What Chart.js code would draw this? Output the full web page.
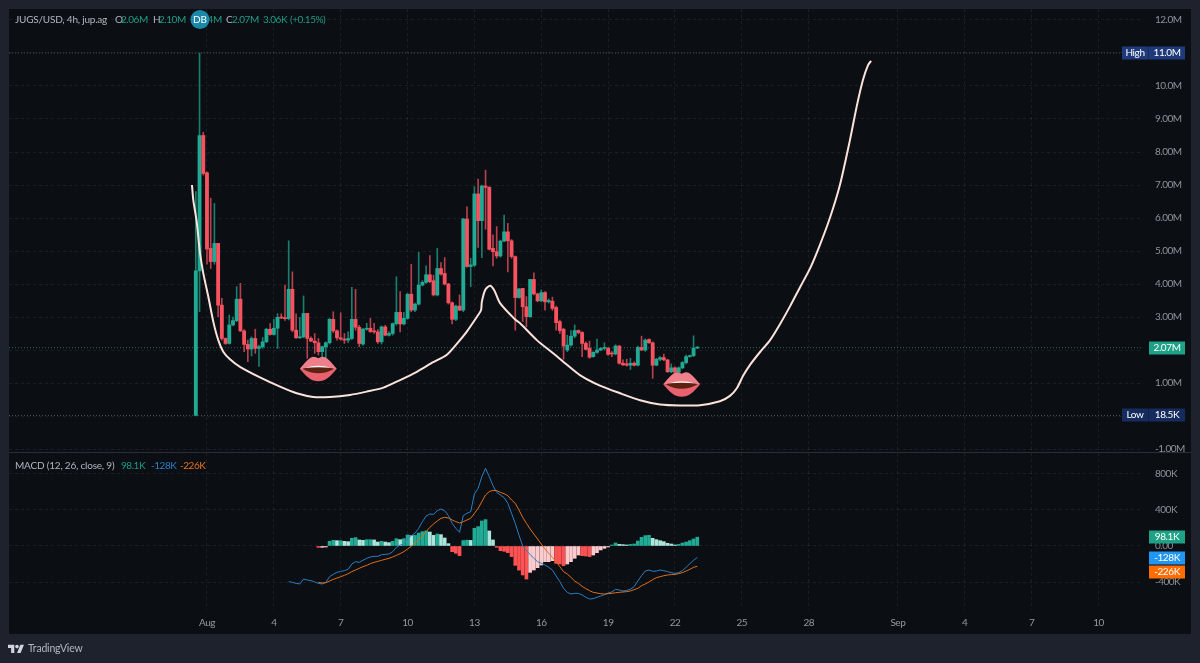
<!DOCTYPE html>
<html>
<head>
<meta charset="utf-8">
<title>JUGS/USD</title>
<script src="https://cdn.jsdelivr.net/npm/chart.js@4/dist/chart.umd.min.js"></script>
<style>
    html, body { margin: 0; padding: 0; background: #1e222d; overflow: hidden; }
    canvas { display: block; }
</style>
</head>
<body>
<canvas id="chart" width="1200" height="663"></canvas>
<script>
// 4h candles in millions, first bar sits three bars before Aug 1 00:00
var firstBar = -3;
var opens = [
    0.02, 4.4, 8.5, 7.37, 5.08, 4.68, 5.23, 3.36, 2.35, 2.2,
    2.76, 2.89, 3.54, 2.58, 2.17, 2.03, 2.35, 2.05, 2.1, 2.25,
    2.63, 2.47, 2.66, 2.99, 2.97, 2.95, 3.84, 2.6, 2.37, 2.4,
    3.11, 2.35, 2.27, 2.22, 1.95, 2.1, 2.22, 2.93, 2.58, 2.37,
    2.33, 2.3, 2.35, 2.93, 2.69, 2.18, 2.63, 2.66, 2.56, 2.55,
    2.25, 2.7, 2.45, 2.5, 2.8, 3.14, 2.79, 2.96, 3.69, 3.21,
    3.39, 3.97, 4.05, 4.28, 4.1, 3.67, 4.47, 4.32, 4.0, 3.43,
    2.93, 3.33, 3.21, 5.97, 4.53, 4.57, 6.73, 5.92, 6.97, 6.93,
    5.08, 4.98, 4.85, 5.3, 5.58, 5.31, 4.83, 3.59, 3.87, 3.31,
    3.01, 4.14, 3.7, 3.49, 3.74, 3.46, 3.48, 3.29, 2.86, 2.63,
    2.0, 2.15, 2.42, 2.59, 2.53, 2.2, 2.05, 1.8, 1.93, 2.0,
    2.05, 2.05, 1.9, 1.88, 2.12, 1.6, 1.58, 1.54, 1.6, 1.54,
    2.08, 2.0, 2.32, 2.22, 1.54, 1.72, 1.77, 1.7, 1.34, 1.46,
    1.33, 1.46, 1.62, 1.8, 1.83, 2.06
];
var highs = [
    6.8, 11.0, 8.6, 7.4, 6.6, 6.44, 5.23, 3.57, 2.37, 3.06,
    3.0, 3.92, 4.02, 2.62, 2.3, 2.4, 2.63, 2.15, 2.38, 2.66,
    2.8, 2.93, 3.1, 3.1, 3.97, 5.31, 4.37, 3.1, 2.99, 3.64,
    3.11, 2.4, 2.5, 2.35, 2.12, 2.25, 2.96, 3.16, 2.61, 3.13,
    2.5, 2.55, 3.9, 3.84, 2.75, 2.66, 2.81, 2.96, 2.81, 2.62,
    2.73, 2.75, 2.56, 2.82, 4.22, 3.77, 3.14, 3.72, 4.6, 3.42,
    4.96, 4.1, 4.55, 4.86, 4.27, 5.08, 4.65, 4.8, 4.02, 3.46,
    3.36, 3.67, 5.99, 6.34, 4.78, 6.95, 7.18, 7.0, 7.45, 6.95,
    5.49, 5.74, 5.33, 6.09, 5.84, 5.35, 4.85, 3.87, 3.87, 3.62,
    4.14, 4.34, 3.72, 3.82, 3.77, 3.55, 3.6, 3.33, 2.91, 2.66,
    2.45, 2.59, 2.76, 2.61, 2.56, 2.25, 2.27, 1.95, 2.33, 2.08,
    2.22, 2.08, 1.95, 2.16, 2.14, 1.7, 1.72, 1.75, 1.64, 2.12,
    2.42, 2.34, 2.34, 2.25, 1.75, 1.8, 1.88, 1.72, 1.58, 1.49,
    1.49, 1.65, 1.85, 1.85, 2.43, 2.1
];
var lows = [
    0.0185, 3.16, 7.3, 4.6, 4.47, 4.6, 3.0, 2.3, 2.17, 2.18,
    2.73, 2.86, 2.56, 1.95, 1.65, 1.82, 1.9, 1.5, 2.05, 2.22,
    2.45, 2.45, 2.05, 2.95, 2.9, 2.91, 2.55, 2.35, 2.35, 2.37,
    1.75, 2.25, 1.9, 1.85, 1.8, 1.75, 2.18, 2.53, 2.3, 2.3,
    2.2, 2.22, 2.32, 2.6, 2.1, 2.15, 2.6, 2.53, 2.5, 2.2,
    2.18, 2.43, 2.42, 2.45, 2.75, 2.55, 2.76, 2.93, 3.16, 3.16,
    3.36, 3.94, 4.02, 4.04, 3.64, 3.64, 4.27, 3.97, 3.39, 2.79,
    2.89, 3.19, 3.16, 4.51, 3.92, 4.53, 5.11, 4.8, 5.66, 5.03,
    4.55, 4.78, 4.81, 5.28, 4.37, 4.78, 2.6, 3.57, 2.86, 2.7,
    2.99, 3.67, 3.46, 3.46, 3.21, 3.42, 3.2, 2.6, 2.5, 1.72,
    1.95, 2.12, 2.37, 2.49, 1.8, 2.0, 1.75, 1.78, 1.9, 1.98,
    2.0, 1.84, 1.8, 1.85, 1.57, 1.53, 1.51, 1.41, 1.52, 1.52,
    1.98, 1.96, 2.2, 1.14, 1.52, 1.68, 1.68, 1.32, 1.31, 1.31,
    1.24, 1.43, 1.58, 1.78, 1.8, 2.04
];
var closes = [
    4.4, 8.5, 7.35, 5.06, 4.68, 5.23, 3.36, 2.35, 2.2, 2.76,
    2.89, 3.54, 2.58, 2.17, 2.03, 2.35, 2.05, 2.1, 2.25, 2.63,
    2.47, 2.66, 2.99, 2.97, 2.95, 3.84, 2.6, 2.37, 2.4, 3.11,
    2.35, 2.27, 2.22, 1.95, 2.1, 2.22, 2.93, 2.58, 2.37, 2.33,
    2.3, 2.35, 2.93, 2.69, 2.2, 2.63, 2.66, 2.56, 2.55, 2.25,
    2.7, 2.45, 2.5, 2.8, 3.14, 2.79, 2.96, 3.69, 3.21, 3.39,
    3.97, 4.05, 4.28, 4.07, 3.67, 4.47, 4.3, 4.0, 3.43, 2.93,
    3.33, 3.21, 5.97, 4.53, 4.58, 6.73, 5.92, 6.97, 6.93, 5.05,
    4.98, 4.85, 5.3, 5.58, 5.31, 4.83, 3.59, 3.85, 3.31, 3.01,
    4.14, 3.7, 3.49, 3.74, 3.46, 3.5, 3.26, 2.83, 2.59, 2.12,
    2.15, 2.42, 2.59, 2.53, 2.2, 2.02, 1.78, 1.93, 2.0, 2.05,
    2.07, 1.87, 1.88, 2.12, 1.6, 1.55, 1.54, 1.6, 1.54, 2.08,
    2.0, 2.3, 2.22, 1.54, 1.72, 1.77, 1.7, 1.34, 1.46, 1.33,
    1.46, 1.62, 1.8, 1.83, 2.06, 2.07
];

// MACD values in thousands
var macdStart = 22;
var macdLine = [
    -396, -404, -415, -422, -367, -378, -385, -400, -415, -422,
    -404, -341, -315, -293, -282, -274, -259, -200, -174, -182,
    -159, -137, -122, -115, -115, -96, -93, -89, -63, -15,
    11, 19, 85, 115, 141, 196, 270, 333, 355, 352,
    392, 411, 392, 337, 252, 196, 152, 337, 363, 381,
    578, 641, 770, 863, 770, 670, 596, 567, 537, 474,
    363, 250, 120, 0, -52, -93, -137, -174, -193, -211,
    -237, -267, -333, -396, -470, -515, -533, -526, -526, -544,
    -570, -589, -585, -570, -556, -541, -522, -511, -481, -489,
    -500, -493, -481, -452, -389, -330, -278, -267, -281, -278,
    -267, -274, -285, -296, -304, -296, -274, -237, -196, -159,
    -128
];
var signalStart = 30;
var signalLine = [
    -404, -411, -408, -389, -371, -356, -341, -326, -308, -285,
    -267, -248, -230, -215, -196, -182, -171, -159, -148, -137,
    -122, -104, -85, -63, -33, -4, 33, 70, 111, 159,
    207, 244, 278, 307, 318, 311, 289, 270, 255, 270,
    289, 307, 363, 418, 492, 567, 604, 618, 615, 596,
    581, 559, 511, 474, 400, 318, 252, 189, 133, 78,
    22, -33, -81, -126, -174, -230, -285, -311, -348, -389,
    -415, -448, -474, -496, -515, -522, -530, -533, -530, -526,
    -519, -515, -511, -507, -500, -485, -470, -441, -422, -400,
    -374, -352, -341, -330, -322, -318, -315, -307, -296, -278,
    -259, -237, -226
];
var histValues = [
    -15, -15, -5, 52, 63, 59, 59, 52, 48, 85,
    93, 67, 63, 70, 70, 67, 44, 52, 44, 37,
    52, 81, 70, 81, 122, 115, 118, 144, 159, 167,
    155, 118, 133, 126, 89, 26, -63, -81, -107, 60,
    65, 62, 196, 215, 278, 293, 167, 67, -15, -52,
    -59, -74, -118, -215, -268, -322, -367, -293, -267, -241,
    -211, -174, -174, -163, -193, -200, -219, -200, -174, -137,
    -100, -108, -111, -118, -100, -74, -44, -26, -7, 7,
    33, 18, 15, 11, 18, 22, 55, 96, 115, 118,
    85, 70, 59, 48, 30, 22, 11, 18, 33, 44,
    59, 78, 98.1
];

// hand drawn cup over the candles, bar index and value in millions
var curveBars = [
    -4.04, -3.69, -2.77, -1.88, -1, 0.35, 1.7, 3.04, 4.39, 6.19,
    8.89, 14.27, 19.66, 24.15, 28.62, 33.1, 38.5, 43, 47.5, 52,
    56.5, 60.9, 64.5, 67.2, 69.9, 73, 73.8, 74, 74.9, 76.2,
    77.3, 78.9, 82.9, 84.3, 88.8, 93.2, 96.4, 100.4, 105.8, 111.2,
    116.6, 122, 127.4, 132.7, 138.1, 140.8, 142.7, 144.3, 146.2, 148.9,
    151.6, 154.3, 157, 159.7, 162.4, 165, 167.7, 170.4, 173.1, 175,
    176.6, 178, 178.8
];
var curveValues = [
    7, 6.55, 5.89, 4.94, 4.33, 3.62, 2.86, 2.3, 1.95, 1.72,
    1.49, 1.17, 0.89, 0.69, 0.58, 0.58, 0.64, 0.74, 0.86, 1.09,
    1.34, 1.63, 1.85, 2.18, 2.55, 3.06, 3.21, 3.46, 3.82, 3.95,
    3.82, 3.42, 2.93, 2.81, 2.3, 1.9, 1.6, 1.24, 0.92, 0.69,
    0.48, 0.35, 0.32, 0.33, 0.45, 0.61, 0.85, 1.21, 1.55, 1.94,
    2.3, 2.79, 3.33, 3.91, 4.48, 5.18, 6, 7, 8.36, 9.42,
    10.18, 10.64, 10.76
];

var lipsBars = [29.97, 127.8];
var lipsValues = [1.43, 0.96];

var timeTicks = [0, 18, 36, 54, 72, 90, 108, 126, 144, 162, 186, 204, 222, 240];
var timeLabels = ['Aug', '4', '7', '10', '13', '16', '19', '22', '25', '28', 'Sep', '4', '7', '10'];
var priceTicks = [12, 11, 10, 9, 8, 7, 6, 5, 4, 3, 2, 1, 0, -1];
var priceLabels = ['12.0M', '', '10.0M', '9.00M', '8.00M', '7.00M', '6.00M', '5.00M', '4.00M', '3.00M', '', '1.00M', '', '-1.00M'];
var macdTicks = [800, 400, 0, -400];
var macdLabels = ['800K', '400K', '0.00', '-400K'];

var highValue = 11.0;
var lowValue = 0.0185;
var lastClose = 2.07;
var lastHist = 98.1;
var lastMacd = -128;

var UP = '#22ab94', DOWN = '#f7525f';
var FONT = 'Lato, sans-serif';
var SIZE = 10;
var xMin = -53.3, xMax = 252;

function pairs(start, values) {
    return values.map(function (v, i) { return { x: start + i, y: v }; });
}

var candleBars = opens.map(function (o, i) { return { x: firstBar + i, y: [o, closes[i]] }; });
var wickBars = highs.map(function (h, i) { return { x: firstBar + i, y: [lows[i], h] }; });
var candleColors = opens.map(function (o, i) { return closes[i] >= o ? UP : DOWN; });
var wickColors = opens.map(function (o, i) { return closes[i] >= o ? '#1a7d6d' : '#b5404e'; });

// same colouring rule as the histogram legend: strong when moving away from zero
var histColors = histValues.map(function (v, i) {
    var prev = i > 0 ? histValues[i - 1] : 0;
    if (v >= 0) return v >= prev ? '#22ab94' : '#ace5dc';
    return v < prev ? '#ff5252' : '#fccbcd';
});

function flatLine(value) {
    return [{ x: xMin, y: value }, { x: xMax, y: value }];
}

function drawLips(ctx, cx, cy) {
    ctx.save();
    ctx.translate(cx, cy);
    // lower lip
    ctx.beginPath();
    ctx.moveTo(-18.5, 0);
    ctx.bezierCurveTo(-12, 8, -7, 12.5, 0, 12.5);
    ctx.bezierCurveTo(7, 12.5, 12, 8, 18.5, 0);
    ctx.closePath();
    ctx.fillStyle = '#e9606f';
    ctx.fill();
    // upper lip
    ctx.beginPath();
    ctx.moveTo(-18.5, 0);
    ctx.bezierCurveTo(-13, -6, -9, -12, -4.5, -12);
    ctx.quadraticCurveTo(-2, -12, 0, -10.5);
    ctx.quadraticCurveTo(2, -12, 4.5, -12);
    ctx.bezierCurveTo(9, -12, 13, -6, 18.5, 0);
    ctx.quadraticCurveTo(0, 3, -18.5, 0);
    ctx.closePath();
    ctx.fillStyle = '#ef7f8b';
    ctx.fill();
    // mouth
    ctx.beginPath();
    ctx.moveTo(-16, 0);
    ctx.quadraticCurveTo(0, -5, 16, 0);
    ctx.quadraticCurveTo(0, 9, -16, 0);
    ctx.closePath();
    ctx.fillStyle = '#5c2212';
    ctx.fill();
    // teeth
    ctx.beginPath();
    ctx.moveTo(-13, -1);
    ctx.quadraticCurveTo(0, -5, 13, -1);
    ctx.quadraticCurveTo(0, -2, -13, -1);
    ctx.closePath();
    ctx.fillStyle = '#fff6f2';
    ctx.fill();
    ctx.restore();
}

function text(ctx, str, x, y, color, size, spacing) {
    ctx.font = (size || SIZE) + 'px ' + FONT;
    ctx.letterSpacing = spacing || '-0.2px';
    ctx.fillStyle = color;
    ctx.textAlign = 'left';
    ctx.textBaseline = 'middle';
    ctx.fillText(str, x, y);
}

// value tag on the price axis
function axisTag(ctx, str, y, color) {
    ctx.fillStyle = color;
    ctx.fillRect(1149, Math.round(y) - 6.5, 36, 13);
    ctx.font = SIZE + 'px ' + FONT;
    ctx.letterSpacing = '-0.4px';
    ctx.fillStyle = '#ffffff';
    ctx.textAlign = 'center';
    ctx.textBaseline = 'middle';
    ctx.fillText(str, 1167, Math.round(y));
}

function extremeTag(ctx, title, str, y, color) {
    ctx.fillStyle = color;
    ctx.fillRect(1122, Math.round(y) - 6.5, 63, 13);
    ctx.fillStyle = 'rgba(0,0,0,0.25)';
    ctx.fillRect(1148, Math.round(y) - 6.5, 1, 13);
    ctx.font = SIZE + 'px ' + FONT;
    ctx.letterSpacing = '-0.4px';
    ctx.fillStyle = '#ffffff';
    ctx.textAlign = 'center';
    ctx.textBaseline = 'middle';
    ctx.fillText(title, 1135, Math.round(y));
    ctx.fillText(str, 1167, Math.round(y));
}

var panelPlugin = {
    id: 'panel',
    beforeDraw: function (chart) {
        var ctx = chart.ctx;
        ctx.fillStyle = '#1e222d';
        ctx.fillRect(0, 0, chart.width, chart.height);
        ctx.fillStyle = '#0b0e13';
        ctx.fillRect(9, 9, 1182, 625);
        // tighter tracking for the axis labels
        ctx.letterSpacing = '-0.5px';
    }
};

var overlayPlugin = {
    id: 'overlay',
    afterDraw: function (chart) {
        var ctx = chart.ctx;
        var price = chart.scales.price, macd = chart.scales.macd, x = chart.scales.x;

        // pane separator
        ctx.fillStyle = '#2a2e39';
        ctx.fillRect(9, Math.round(macd.top), 1182, 1);

        lipsBars.forEach(function (b, i) {
            drawLips(ctx, x.getPixelForValue(b), price.getPixelForValue(lipsValues[i]));
        });

        // header row
        var grey = '#b2b5be', green = '#1f9d86', tight = '-0.45px';
        text(ctx, 'JUGS/USD, 4h, jup.ag', 15, 20, grey);
        text(ctx, 'O', 115, 20, grey);
        text(ctx, '2.06M', 121, 20, green, SIZE, tight);
        text(ctx, 'H', 153, 20, grey);
        text(ctx, '2.10M', 159, 20, green, SIZE, tight);
        text(ctx, 'L', 190, 20, grey);
        text(ctx, '2.04M', 195, 20, green, SIZE, tight);
        text(ctx, 'C', 226, 20, grey);
        text(ctx, '2.07M', 232, 20, green, SIZE, tight);
        text(ctx, '3.06K', 263, 20, green, SIZE, tight);
        text(ctx, '(+0.15%)', 290, 20, green, SIZE, tight);

        ctx.beginPath();
        ctx.arc(200, 19.5, 9.5, 0, Math.PI * 2);
        ctx.fillStyle = '#1a88a8';
        ctx.fill();
        ctx.font = '10px ' + FONT;
        ctx.letterSpacing = '0px';
        ctx.fillStyle = '#ffffff';
        ctx.textAlign = 'center';
        ctx.textBaseline = 'middle';
        ctx.fillText('DB', 200, 19.5);

        // indicator legend
        text(ctx, 'MACD (12, 26, close, 9)', 15, 466, grey);
        text(ctx, '98.1K', 121, 466, green, SIZE, tight);
        text(ctx, '-128K', 151, 466, '#2a7fc4', SIZE, tight);
        text(ctx, '-226K', 180, 466, '#e8721c', SIZE, tight);

        // axis tags
        extremeTag(ctx, 'High', '11.0M', price.getPixelForValue(highValue), '#1e3a7a');
        extremeTag(ctx, 'Low', '18.5K', price.getPixelForValue(lowValue), '#172c5e');
        axisTag(ctx, '2.07M', price.getPixelForValue(lastClose), '#1fa187');
        axisTag(ctx, '98.1K', macd.getPixelForValue(lastHist), '#1fa187');
        axisTag(ctx, '-128K', macd.getPixelForValue(lastMacd), '#2196f3');
        axisTag(ctx, '-226K', 572, '#ff6d00');

        // logo and wordmark in the footer
        ctx.save();
        ctx.translate(8, 643);
        ctx.scale(0.45, 0.45);
        ctx.fillStyle = '#d1d4dc';
        ctx.fill(new Path2D('M14 22H7V11H0V4h14v18zM28 22h-8l7.5-18h8L28 22z'));
        ctx.beginPath();
        ctx.arc(20, 8, 4, 0, Math.PI * 2);
        ctx.fill();
        ctx.restore();
        text(ctx, 'TradingView', 28, 649, '#b2b5be', 10.5);
    }
};

function setTicks(values) {
    return function (scale) {
        scale.ticks = values.map(function (v) { return { value: v }; });
    };
}

function paneAxis(min, max, weight, tickValues, tickTexts) {
    return {
        type: 'linear',
        position: 'right',
        stack: 'panes',
        stackWeight: weight,
        min: min,
        max: max,
        afterBuildTicks: setTicks(tickValues),
        afterFit: function (scale) {
            scale.width = 57;
            scale.paddingTop = 0;
            scale.paddingBottom = 0;
        },
        border: { display: false, dash: [3, 3] },
        grid: { color: 'rgba(255,255,255,0.065)', drawTicks: false },
        ticks: {
            autoSkip: false,
            padding: 12,
            color: '#8f929b',
            font: { family: FONT, size: SIZE },
            callback: function (value, index) { return tickTexts[index]; }
        }
    };
}

new Chart('chart', {
    data: {
        datasets: [
            { type: 'line', data: flatLine(highValue), yAxisID: 'price', borderColor: '#4c4f59', borderWidth: 1, borderDash: [1, 2], pointRadius: 0, order: 9 },
            { type: 'line', data: flatLine(lowValue), yAxisID: 'price', borderColor: '#4c4f59', borderWidth: 1, borderDash: [1, 2], pointRadius: 0, order: 9 },
            { type: 'line', data: flatLine(lastClose), yAxisID: 'price', borderColor: '#1a6f60', borderWidth: 1, borderDash: [1, 2], pointRadius: 0, order: 9 },
            { type: 'bar', data: wickBars, yAxisID: 'price', backgroundColor: wickColors, barThickness: 1, grouped: false, order: 8 },
            { type: 'bar', data: candleBars, yAxisID: 'price', backgroundColor: candleColors, barThickness: 3.2, minBarLength: 1, grouped: false, order: 7 },
            { type: 'line', data: curveBars.map(function (b, i) { return { x: b, y: curveValues[i] }; }), yAxisID: 'price', borderColor: '#fbe3dc', borderWidth: 2, tension: 0.25, pointRadius: 0, order: 1 },
            { type: 'bar', data: pairs(signalStart, histValues), yAxisID: 'macd', backgroundColor: histColors, barThickness: 3, minBarLength: 1, grouped: false, order: 6 },
            { type: 'line', data: pairs(macdStart, macdLine), yAxisID: 'macd', borderColor: '#2a7fc4', borderWidth: 1, pointRadius: 0, order: 3 },
            { type: 'line', data: pairs(signalStart, signalLine), yAxisID: 'macd', borderColor: '#e0701a', borderWidth: 1, pointRadius: 0, order: 2 }
        ]
    },
    options: {
        responsive: false,
        animation: false,
        layout: { padding: { top: 9, left: 9, right: 0, bottom: 0 } },
        plugins: { legend: { display: false }, tooltip: { enabled: false } },
        scales: {
            x: {
                type: 'linear',
                position: 'bottom',
                min: xMin,
                max: xMax,
                offset: false,
                afterBuildTicks: setTicks(timeTicks),
                afterFit: function (scale) {
                    scale.height = 53;
                    scale.paddingLeft = 0;
                    scale.paddingRight = 0;
                },
                border: { display: false, dash: [3, 3] },
                grid: { offset: false, color: 'rgba(255,255,255,0.065)', drawTicks: false },
                ticks: {
                    autoSkip: false,
                    maxRotation: 0,
                    padding: 7,
                    color: '#9598a1',
                    font: { family: FONT, size: SIZE },
                    callback: function (value, index) { return timeLabels[index]; }
                }
            },
            price: paneAxis(-1.09, 12.333, 443, priceTicks, priceLabels),
            macd: paneAxis(-711, 1044, 158, macdTicks, macdLabels)
        }
    },
    plugins: [panelPlugin, overlayPlugin]
});
</script>
</body>
</html>
